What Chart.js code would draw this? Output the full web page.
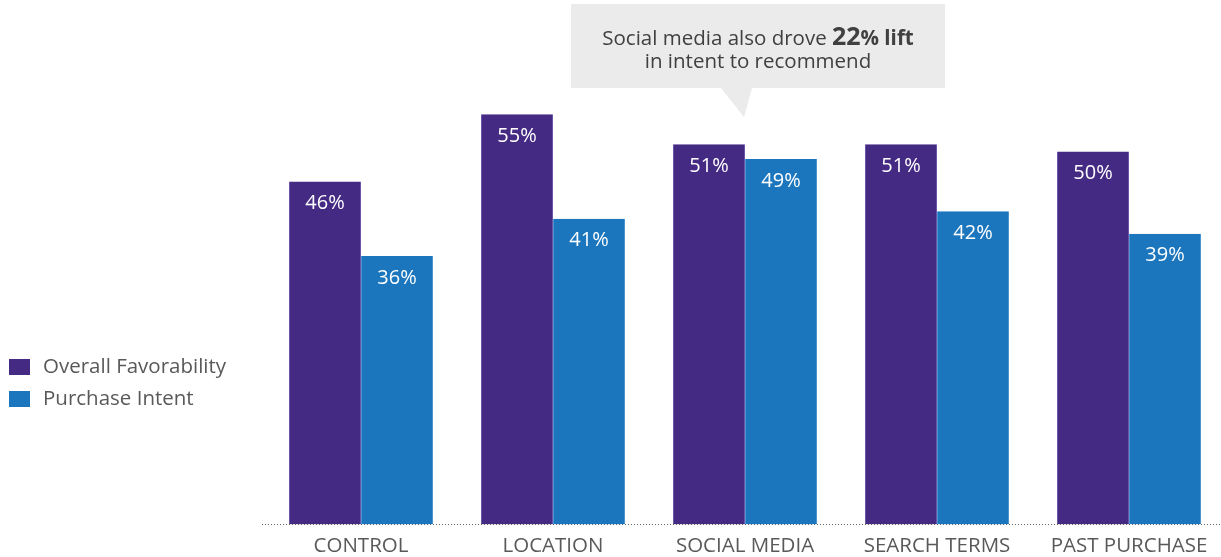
<!DOCTYPE html>
<html>
<head>
<meta charset="utf-8">
<script src="https://cdn.jsdelivr.net/npm/chart.js@4.4.1/dist/chart.umd.min.js"></script>
<style>
  html, body { margin: 0; padding: 0; background: #fff; overflow: hidden; }
  #wrap { position: relative; width: 1225px; height: 570px; }
</style>
</head>
<body>
<div id="wrap"><canvas id="liftChart"></canvas></div>
<script>
// Categories and series
const categories = ["CONTROL", "LOCATION", "SOCIAL MEDIA", "SEARCH TERMS", "PAST PURCHASE"];
const favorability = [46, 55, 51, 51, 50];
const purchaseIntent = [36, 41, 49, 42, 39];
const seriesNames = ["Overall Favorability", "Purchase Intent"];
const seriesColors = ['#452a84', '#1b76bd'];
const seriesEdges = ['#6a55a8', '#4a95d0'];

const FONT = "'Open Sans', 'Noto Sans', sans-serif";

// value labels inside the top of each bar
const barLabels = {
    id: 'barLabels',
    afterDatasetsDraw(chart) {
        const c = chart.ctx;
        c.save();
        c.font = '20px ' + FONT;
        c.fillStyle = '#ffffff';
        c.textAlign = 'center';
        c.textBaseline = 'middle';
        chart.data.datasets.forEach((ds, i) => {
            chart.getDatasetMeta(i).data.forEach((bar, j) => {
                c.fillText(ds.data[j] + '%', bar.x, bar.y + 22);
            });
        });
        c.restore();
    }
};

// dotted baseline, running a little past the left of the plot
const baseline = {
    id: 'baseline',
    afterDatasetsDraw(chart) {
        const c = chart.ctx;
        const y = Math.round(chart.chartArea.bottom) + 0.5;
        c.save();
        c.strokeStyle = '#666666';
        c.lineWidth = 1;
        c.setLineDash([1, 2]);
        c.beginPath();
        c.moveTo(chart.chartArea.left - 3, y);
        c.lineTo(chart.width, y);
        c.stroke();
        c.restore();
    }
};

// legend block on the left
const sideLegend = {
    id: 'sideLegend',
    afterDraw(chart) {
        const c = chart.ctx;
        c.save();
        c.font = '20.5px ' + FONT;
        c.textBaseline = 'middle';
        c.textAlign = 'left';
        seriesNames.forEach((name, i) => {
            const y = 367 + i * 32;
            c.fillStyle = seriesColors[i];
            c.fillRect(9, y - 8, 21, 16);
            c.fillStyle = '#595959';
            c.fillText(name, 43, y);
        });
        c.restore();
    }
};

// speech bubble above the social media bars
const callout = {
    id: 'callout',
    afterDraw(chart) {
        const c = chart.ctx;
        const xs = chart.scales.x;
        const ys = chart.scales.y;
        const cx = xs.getPixelForValue(2) + 13;
        const tipX = xs.getPixelForValue(2) - 1;
        const tipY = ys.getPixelForValue(55) + 3;
        const left = cx - 187, right = cx + 187, top = 4, bottom = 88;
        c.save();
        c.fillStyle = '#ebebeb';
        c.fillRect(left, top, right - left, bottom - top);
        c.beginPath();
        c.moveTo(tipX - 23, bottom);
        c.lineTo(tipX + 8, bottom);
        c.lineTo(tipX, tipY);
        c.closePath();
        c.fill();

        // first line: regular text followed by bold figure
        const partA = 'Social media also drove ';
        const partB = '22';
        const partC = '% lift';
        c.textBaseline = 'alphabetic';
        c.textAlign = 'left';
        c.font = '20.5px ' + FONT;
        const wA = c.measureText(partA).width;
        c.font = 'bold 25px ' + FONT;
        const wB = c.measureText(partB).width;
        c.font = 'bold 20.5px ' + FONT;
        const wC = c.measureText(partC).width;
        let x = cx - (wA + wB + wC) / 2;
        const base1 = 45;
        c.fillStyle = '#404040';
        c.font = '20.5px ' + FONT;
        c.fillText(partA, x, base1);
        x += wA;
        c.font = 'bold 25px ' + FONT;
        c.fillText(partB, x, base1);
        x += wB;
        c.font = 'bold 20.5px ' + FONT;
        c.fillText(partC, x, base1);

        c.font = '20.5px ' + FONT;
        c.textAlign = 'center';
        c.fillText('in intent to recommend', cx, 68);
        c.restore();
    }
};

const ctx = document.getElementById('liftChart').getContext('2d');

const liftChart = new Chart(ctx, {
    type: 'bar',
    data: {
        labels: categories,
        datasets: [
            {
                label: seriesNames[0],
                data: favorability,
                backgroundColor: seriesColors[0],
                borderColor: seriesEdges[0],
                borderWidth: { top: 0, left: 1, right: 1, bottom: 0 },
                borderSkipped: false
            },
            {
                label: seriesNames[1],
                data: purchaseIntent,
                backgroundColor: seriesColors[1],
                borderColor: seriesEdges[1],
                borderWidth: { top: 0, left: 1, right: 1, bottom: 0 },
                borderSkipped: false
            }
        ]
    },
    options: {
        responsive: true,
        maintainAspectRatio: false,
        animation: false,
        layout: { padding: { left: 265, right: 0, top: 2.5, bottom: 3 } },
        datasets: {
            bar: { barPercentage: 1, categoryPercentage: 0.75 }
        },
        scales: {
            y: {
                display: false,
                min: 0,
                max: 70
            },
            x: {
                grid: { display: false, drawTicks: false },
                border: { display: false },
                ticks: {
                    color: '#595959',
                    padding: 9,
                    font: { family: FONT, size: 20.5 }
                }
            }
        },
        plugins: {
            legend: { display: false },
            tooltip: { enabled: false }
        }
    },
    plugins: [barLabels, baseline, sideLegend, callout]
});
</script>
</body>
</html>
